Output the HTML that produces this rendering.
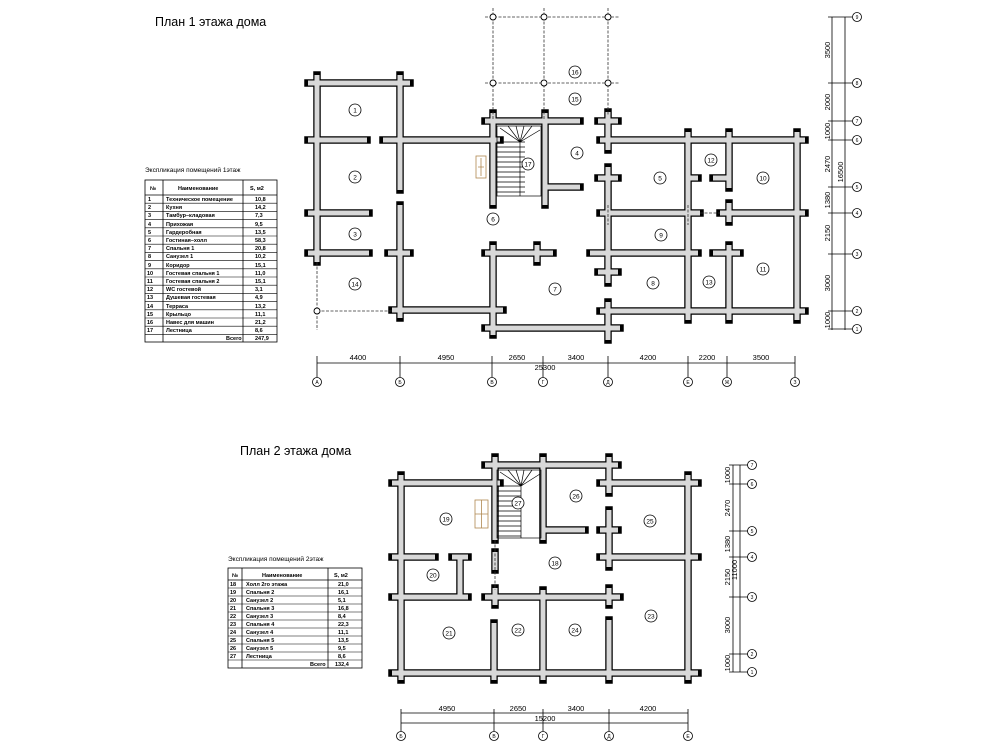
<!DOCTYPE html>
<html><head><meta charset="utf-8"><style>
body{margin:0;background:#fff;}
svg{display:block;font-family:"Liberation Sans",sans-serif;}
.t{font-size:5.5px;font-weight:bold;}
</style></head><body>
<svg width="1000" height="750" viewBox="0 0 1000 750" xmlns="http://www.w3.org/2000/svg">
<defs>
<path id="w1" d="M308 83H410 M317 75V262 M400 75V190 M308 140H367 M383 140H500 M485 121H580 M493 113V205 M545 113V205 M545 187H580 M308 213H369 M400 205V318 M308 253H369 M388 253H410 M392 310H503 M493 245V335 M485 253H553 M485 328H620 M608 112V150 M608 167V283 M608 302V340 M600 140H805 M600 213H700 M720 213H805 M590 253H698 M713 253H740 M600 311H805 M688 132V320 M729 132V188 M729 203V222 M729 245V320 M797 132V320 M688 178H698 M713 178H729 M598 178H618 M598 272H618 M537 245V262 M598 121H618"/>
<path id="w2" d="M392 483H500 M485 465H618 M600 483H698 M401 475V680 M495 457V540 M495 552V570 M495 588V605 M543 457V540 M543 530H585 M609 457V493 M609 510V567 M609 588V605 M609 620V680 M688 475V680 M392 557H435 M452 557H468 M600 557H698 M392 597H468 M485 597H620 M392 673H698 M460 557V597 M494 623V680 M543 590V680 M600 530H618"/>
</defs>
<g fill="none">
<use href="#w1" stroke="#000" stroke-width="7.5" stroke-linecap="square"/>
<use href="#w1" stroke="#d8d8d8" stroke-width="5" stroke-linecap="butt"/>
<use href="#w2" stroke="#000" stroke-width="7.5" stroke-linecap="square"/>
<use href="#w2" stroke="#d8d8d8" stroke-width="5" stroke-linecap="butt"/>
</g>
<g stroke="#333" stroke-width="0.8" stroke-dasharray="3,1.5" fill="none">
<path d="M493 8V120 M544 8V120 M608 8V115 M485 17H620 M485 83H620 M317 262V330 M317 311H392"/>
<path d="M608 205V225 M688 205V225 M700 213H720 M495 540V590"/>
</g>
<g fill="#fff" stroke="#000" stroke-width="0.9">
<circle cx="493" cy="17" r="3"/><circle cx="544" cy="17" r="3"/><circle cx="608" cy="17" r="3"/>
<circle cx="493" cy="83" r="3"/><circle cx="544" cy="83" r="3"/><circle cx="608" cy="83" r="3"/>
<circle cx="317" cy="311" r="3"/>
</g>
<g stroke="#000" stroke-width="0.7" fill="none">
<rect x="497" y="126" width="44" height="70"/>
<path d="M497 142H525 M497 147H525 M497 152H525 M497 157H525 M497 162H525 M497 167H525 M497 172H525 M497 177H525 M497 182H525 M497 187H525 M497 192H525 M520 142V196 M520 142L500 128 M520 142L508 126 M520 142L516 126 M520 142L524 126 M520 142L532 126 M520 142L540 130"/>
<rect x="497" y="470" width="44" height="68"/>
<path d="M497 486H521 M497 491H521 M497 496H521 M497 501H521 M497 506H521 M497 511H521 M497 516H521 M497 521H521 M497 526H521 M497 531H521 M497 536H521 M521 486V538 M521 486L500 472 M521 486L508 470 M521 486L516 470 M521 486L524 470 M521 486L532 470 M521 486L540 474"/>
</g>
<g stroke="#b08850" stroke-width="0.8" fill="none">
<rect x="476" y="156" width="10" height="22"/><path d="M481 158V176 M478 167H484"/>
<rect x="475" y="500" width="13" height="28"/><path d="M481.5 500V528 M475 514H488"/>
</g>
<g font-size="6.5" text-anchor="middle">
<g fill="#fff" stroke="#000" stroke-width="0.8">
<circle cx="355" cy="110" r="6"/><circle cx="355" cy="177" r="6"/><circle cx="355" cy="234" r="6"/><circle cx="355" cy="284" r="6"/>
<circle cx="493" cy="219" r="6"/><circle cx="528" cy="164" r="6"/><circle cx="577" cy="153" r="6"/><circle cx="555" cy="289" r="6"/>
<circle cx="575" cy="72" r="6"/><circle cx="575" cy="99" r="6"/><circle cx="660" cy="178" r="6"/><circle cx="711" cy="160" r="6"/>
<circle cx="763" cy="178" r="6"/><circle cx="661" cy="235" r="6"/><circle cx="653" cy="283" r="6"/><circle cx="709" cy="282" r="6"/><circle cx="763" cy="269" r="6"/>
<circle cx="446" cy="519" r="6"/><circle cx="433" cy="575" r="6"/><circle cx="449" cy="633" r="6"/><circle cx="518" cy="630" r="6"/>
<circle cx="575" cy="630" r="6"/><circle cx="651" cy="616" r="6"/><circle cx="555" cy="563" r="6"/><circle cx="576" cy="496" r="6"/><circle cx="650" cy="521" r="6"/><circle cx="518" cy="503" r="6"/>
</g>
<text x="355" y="112.5">1</text><text x="355" y="179.5">2</text><text x="355" y="236.5">3</text><text x="355" y="286.5">14</text>
<text x="493" y="221.5">6</text><text x="528" y="166.5">17</text><text x="577" y="155.5">4</text><text x="555" y="291.5">7</text>
<text x="575" y="74.5">16</text><text x="575" y="101.5">15</text><text x="660" y="180.5">5</text><text x="711" y="162.5">12</text>
<text x="763" y="180.5">10</text><text x="661" y="237.5">9</text><text x="653" y="285.5">8</text><text x="709" y="284.5">13</text><text x="763" y="271.5">11</text>
<text x="446" y="521.5">19</text><text x="433" y="577.5">20</text><text x="449" y="635.5">21</text><text x="518" y="632.5">22</text>
<text x="575" y="632.5">24</text><text x="651" y="618.5">23</text><text x="555" y="565.5">18</text><text x="576" y="498.5">26</text><text x="650" y="523.5">25</text><text x="518" y="505.5">27</text>
</g>
<text x="155" y="26" font-size="12.5">План 1 этажа дома</text>
<text x="240" y="455" font-size="12.5">План 2 этажа дома</text>
<g stroke="#000" stroke-width="0.8" fill="none">
<path d="M317 363H795 M317 356V377 M400 356V377 M492 356V377 M543 356V377 M608 356V377 M688 356V377 M727 356V377 M795 356V377"/>
<circle cx="317" cy="382" r="4.5"/><circle cx="400" cy="382" r="4.5"/><circle cx="492" cy="382" r="4.5"/><circle cx="543" cy="382" r="4.5"/>
<circle cx="608" cy="382" r="4.5"/><circle cx="688" cy="382" r="4.5"/><circle cx="727" cy="382" r="4.5"/><circle cx="795" cy="382" r="4.5"/>
</g>
<g font-size="7.5" text-anchor="middle">
<text x="358" y="360">4400</text><text x="446" y="360">4950</text><text x="517" y="360">2650</text><text x="576" y="360">3400</text>
<text x="648" y="360">4200</text><text x="707" y="360">2200</text><text x="761" y="360">3500</text><text x="545" y="370">25300</text>
</g>
<g font-size="5" text-anchor="middle">
<text x="317" y="384">А</text><text x="400" y="384">Б</text><text x="492" y="384">В</text><text x="543" y="384">Г</text>
<text x="608" y="384">Д</text><text x="688" y="384">Е</text><text x="727" y="384">Ж</text><text x="795" y="384">З</text>
</g>
<g stroke="#000" stroke-width="0.8" fill="none">
<path d="M832 17V330 M845 17V330 M828 17H852 M828 83H852 M828 121H852 M828 140H852 M828 187H852 M828 213H852 M828 254H852 M828 311H852 M828 329H852"/>
<circle cx="857" cy="17" r="4.5"/><circle cx="857" cy="83" r="4.5"/><circle cx="857" cy="121" r="4.5"/><circle cx="857" cy="140" r="4.5"/>
<circle cx="857" cy="187" r="4.5"/><circle cx="857" cy="213" r="4.5"/><circle cx="857" cy="254" r="4.5"/><circle cx="857" cy="311" r="4.5"/><circle cx="857" cy="329" r="4.5"/>
</g>
<g font-size="5" text-anchor="middle">
<text x="857" y="19">9</text><text x="857" y="85">8</text><text x="857" y="123">7</text><text x="857" y="142">6</text><text x="857" y="189">5</text>
<text x="857" y="215">4</text><text x="857" y="256">3</text><text x="857" y="313">2</text><text x="857" y="331">1</text>
</g>
<g font-size="7.5" text-anchor="middle">
<text transform="translate(830 50) rotate(-90)">3500</text><text transform="translate(830 102) rotate(-90)">2000</text>
<text transform="translate(830 131) rotate(-90)">1000</text><text transform="translate(830 164) rotate(-90)">2470</text>
<text transform="translate(830 200) rotate(-90)">1380</text><text transform="translate(830 233) rotate(-90)">2150</text>
<text transform="translate(830 283) rotate(-90)">3000</text><text transform="translate(830 320) rotate(-90)">1000</text>
<text transform="translate(843 172) rotate(-90)">16500</text>
</g>
<g stroke="#000" stroke-width="0.8" fill="none">
<path d="M401 713H688 M401 723H688 M401 709V731 M494 709V731 M543 709V731 M609 709V731 M688 709V731"/>
<circle cx="401" cy="736" r="4.5"/><circle cx="494" cy="736" r="4.5"/><circle cx="543" cy="736" r="4.5"/><circle cx="609" cy="736" r="4.5"/><circle cx="688" cy="736" r="4.5"/>
</g>
<g font-size="7.5" text-anchor="middle">
<text x="447" y="711">4950</text><text x="518" y="711">2650</text><text x="576" y="711">3400</text><text x="648" y="711">4200</text><text x="545" y="721">15200</text>
</g>
<g font-size="5" text-anchor="middle">
<text x="401" y="738">Б</text><text x="494" y="738">В</text><text x="543" y="738">Г</text><text x="609" y="738">Д</text><text x="688" y="738">Е</text>
</g>
<g stroke="#000" stroke-width="0.8" fill="none">
<path d="M733 465V672 M740 465V672 M729 465H748 M729 484H748 M729 531H748 M729 557H748 M729 597H748 M729 654H748 M729 672H748"/>
<circle cx="752" cy="465" r="4.5"/><circle cx="752" cy="484" r="4.5"/><circle cx="752" cy="531" r="4.5"/><circle cx="752" cy="557" r="4.5"/>
<circle cx="752" cy="597" r="4.5"/><circle cx="752" cy="654" r="4.5"/><circle cx="752" cy="672" r="4.5"/>
</g>
<g font-size="5" text-anchor="middle">
<text x="752" y="467">7</text><text x="752" y="486">6</text><text x="752" y="533">5</text><text x="752" y="559">4</text><text x="752" y="599">3</text><text x="752" y="656">2</text><text x="752" y="674">1</text>
</g>
<g font-size="7.5" text-anchor="middle">
<text transform="translate(730 475) rotate(-90)">1000</text><text transform="translate(730 508) rotate(-90)">2470</text>
<text transform="translate(730 544) rotate(-90)">1380</text><text transform="translate(730 577) rotate(-90)">2150</text>
<text transform="translate(737 570) rotate(-90)">11000</text>
<text transform="translate(730 625) rotate(-90)">3000</text><text transform="translate(730 663) rotate(-90)">1000</text>
</g>
<!-- table 1 -->
<text x="145" y="172" font-size="6.5">Экспликация помещений 1этаж</text>
<g stroke="#000" stroke-width="0.8" fill="none">
<rect x="145" y="180" width="132" height="162"/>
<path d="M163 180V342 M243 180V342 M145 195H277"/>
<path d="M145 203.2H277 M145 211.4H277 M145 219.6H277 M145 227.8H277 M145 236H277 M145 244.2H277 M145 252.4H277 M145 260.6H277 M145 268.8H277 M145 277H277 M145 285.2H277 M145 293.4H277 M145 301.6H277 M145 309.8H277 M145 318H277 M145 326.2H277 M145 334.4H277" stroke-width="0.6"/>
</g>
<g class="t">
<text x="150" y="190">№</text><text x="178" y="190">Наименование</text><text x="250" y="190">S, м2</text>
<text x="148" y="201">1</text><text x="166" y="201">Техническое помещение</text><text x="255" y="201">10,8</text>
<text x="148" y="209">2</text><text x="166" y="209">Кухня</text><text x="255" y="209">14,2</text>
<text x="148" y="217">3</text><text x="166" y="217">Тамбур–кладовая</text><text x="255" y="217">7,3</text>
<text x="148" y="226">4</text><text x="166" y="226">Прихожая</text><text x="255" y="226">9,5</text>
<text x="148" y="234">5</text><text x="166" y="234">Гардеробная</text><text x="255" y="234">13,5</text>
<text x="148" y="242">6</text><text x="166" y="242">Гостиная–холл</text><text x="255" y="242">58,3</text>
<text x="148" y="250">7</text><text x="166" y="250">Спальня 1</text><text x="255" y="250">20,8</text>
<text x="148" y="258">8</text><text x="166" y="258">Санузел 1</text><text x="255" y="258">10,2</text>
<text x="148" y="267">9</text><text x="166" y="267">Коридор</text><text x="255" y="267">15,1</text>
<text x="147" y="275">10</text><text x="166" y="275">Гостевая спальня 1</text><text x="255" y="275">11,0</text>
<text x="147" y="283">11</text><text x="166" y="283">Гостевая спальня 2</text><text x="255" y="283">15,1</text>
<text x="147" y="291">12</text><text x="166" y="291">WC гостевой</text><text x="255" y="291">3,1</text>
<text x="147" y="299">13</text><text x="166" y="299">Душевая гостевая</text><text x="255" y="299">4,9</text>
<text x="147" y="308">14</text><text x="166" y="308">Терраса</text><text x="255" y="308">13,2</text>
<text x="147" y="316">15</text><text x="166" y="316">Крыльцо</text><text x="255" y="316">11,1</text>
<text x="147" y="324">16</text><text x="166" y="324">Навес для машин</text><text x="255" y="324">21,2</text>
<text x="147" y="332">17</text><text x="166" y="332">Лестница</text><text x="255" y="332">8,6</text>
<text x="226" y="340">Всего</text><text x="255" y="340">247,9</text>
</g>
<!-- table 2 -->
<text x="228" y="561" font-size="6.5">Экспликация помещений 2этаж</text>
<g stroke="#000" stroke-width="0.8" fill="none">
<rect x="228" y="568" width="134" height="100"/>
<path d="M242 568V668 M328 568V668 M228 580H362"/>
<path d="M228 588H362 M228 596H362 M228 604H362 M228 612H362 M228 620H362 M228 628H362 M228 636H362 M228 644H362 M228 652H362 M228 660H362" stroke-width="0.6"/>
</g>
<g class="t">
<text x="232" y="577">№</text><text x="262" y="577">Наименование</text><text x="334" y="577">S, м2</text>
<text x="230" y="586">18</text><text x="246" y="586">Холл 2го этажа</text><text x="338" y="586">21,0</text>
<text x="230" y="594">19</text><text x="246" y="594">Спальня 2</text><text x="338" y="594">16,1</text>
<text x="230" y="602">20</text><text x="246" y="602">Санузел 2</text><text x="338" y="602">5,1</text>
<text x="230" y="610">21</text><text x="246" y="610">Спальня 3</text><text x="338" y="610">16,8</text>
<text x="230" y="618">22</text><text x="246" y="618">Санузел 3</text><text x="338" y="618">8,4</text>
<text x="230" y="626">23</text><text x="246" y="626">Спальня 4</text><text x="338" y="626">22,3</text>
<text x="230" y="634">24</text><text x="246" y="634">Санузел 4</text><text x="338" y="634">11,1</text>
<text x="230" y="642">25</text><text x="246" y="642">Спальня 5</text><text x="338" y="642">13,5</text>
<text x="230" y="650">26</text><text x="246" y="650">Санузел 5</text><text x="338" y="650">9,5</text>
<text x="230" y="658">27</text><text x="246" y="658">Лестница</text><text x="338" y="658">8,6</text>
<text x="310" y="666">Всего</text><text x="335" y="666">132,4</text>
</g>
</svg>
</body></html>
